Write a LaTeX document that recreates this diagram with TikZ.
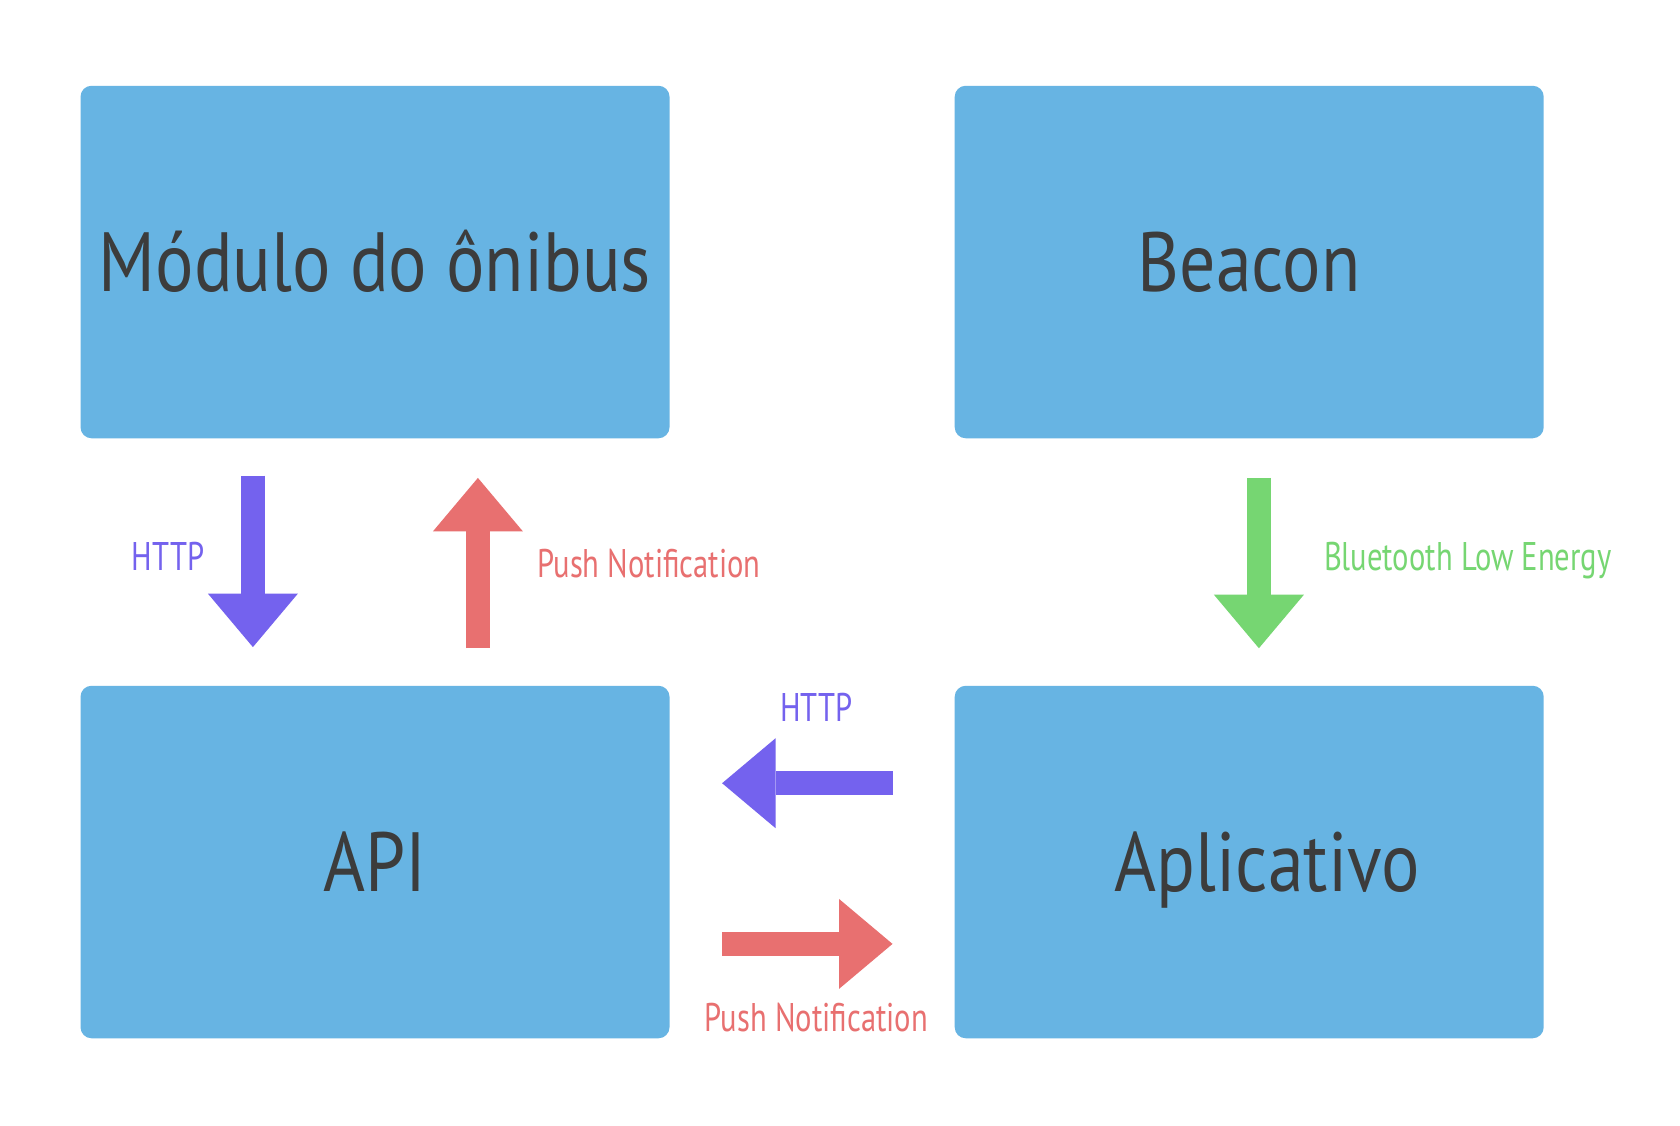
\documentclass[tikz,border=0pt]{standalone}
\usepackage{fontspec}
\setmainfont{PT Sans}
\newfontfamily\titlefont[FakeStretch=0.855]{PT Sans}
\newfontfamily\labelfont[FakeStretch=0.765]{PT Sans}
\usetikzlibrary{arrows.meta}
\definecolor{boxblue}{RGB}{103,180,227}
\definecolor{txtgray}{RGB}{60,60,60}
\definecolor{httpblue}{RGB}{116,98,238}
\definecolor{pushred}{RGB}{232,112,112}
\definecolor{blegreen}{RGB}{118,214,114}
\begin{document}
\begin{tikzpicture}[x=1pt,y=-1pt,
    box/.style={fill=boxblue,rounded corners=11pt,minimum width=589pt,minimum height=352.5pt,
        inner sep=0pt,text=txtgray,font=\titlefont\fontsize{84}{84}\selectfont,
        text height=59pt,text depth=0pt},
    lbl/.style={inner sep=0pt,font=\labelfont\fontsize{40}{40}\selectfont,text height=28pt,text depth=0pt},
    fat/.style={line width=23.6pt,-{Triangle[length=53.5pt,width=90pt,line width=0pt]}}]
\useasboundingbox (0,0) rectangle (1680,1125);
\fill[white] (0,0) rectangle (1680,1125);
% boxes
\node[box] (modulo) at (375,262) {Módulo do ônibus};
\node[box] (beacon) at (1249.2,262) {Beacon};
\node[box] (api) at (375,862) {API};
\node[box] (app) at (1249.2,862) {\hspace*{36pt}Aplicativo};
% arrow ends
\coordinate (h1a) at (252.9,475.7);
\coordinate (h1b) at (252.9,647.1);
\coordinate (p1a) at (477.9,648.2);
\coordinate (p1b) at (477.9,477.9);
\coordinate (bla) at (1258.9,477.9);
\coordinate (blb) at (1258.9,648.2);
\coordinate (h2a) at (892.5,783.2);
\coordinate (h2b) at (722.1,783.2);
\coordinate (p2a) at (722.1,943.9);
\coordinate (p2b) at (892.5,943.9);
\draw[fat,httpblue] (h1a)--(h1b);
\draw[fat,pushred] (p1a)--(p1b);
\draw[fat,blegreen] (bla)--(blb);
\draw[fat,httpblue] (h2a)--(h2b);
\draw[fat,pushred] (p2a)--(p2b);
% labels
\node[lbl,text=httpblue] (h1) at (168,556) {HTTP};
\node[lbl,text=pushred] (p1) at (649,563.6) {Push Notification};
\node[lbl,text=blegreen] (bl) at (1467.8,556) {Bluetooth Low Energy};
\node[lbl,text=httpblue] (h2) at (816.4,707) {HTTP};
\node[lbl,text=pushred] (p2) at (816.4,1017.9) {Push Notification};
\end{tikzpicture}
\end{document}
